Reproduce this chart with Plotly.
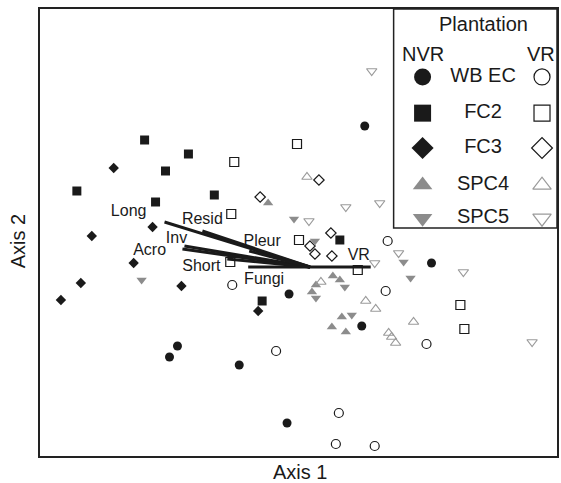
import plotly.graph_objects as go

# ---- ordination scores (Axis 1, Axis 2) ----
wbec_nvr_x = [0.55, 1.22, -0.21, 0.52, -1.33, -1.41, -0.71, -0.23]
wbec_nvr_y = [1.41, 0.04, -0.27, -0.59, -0.79, -0.90, -0.98, -1.56]
wbec_vr_x = [0.78, 0.76, 1.17, -0.34, -0.78, 0.29, 0.26, 0.65]
wbec_vr_y = [0.26, -0.24, -0.77, -0.84, -0.18, -1.46, -1.77, -1.79]

fc2_nvr_x = [-1.66, -1.22, -1.45, -2.34, -0.96, -1.55, 0.30, -0.48]
fc2_nvr_y = [1.27, 1.13, 0.96, 0.76, 0.72, 0.65, 0.27, -0.34]
fc2_vr_x = [-0.76, -0.79, -0.13, -0.80, -0.11, 0.48, 1.51, 1.55]
fc2_vr_y = [1.05, 0.53, 1.23, 0.05, 0.27, -0.03, -0.38, -0.62]

fc3_nvr_x = [-1.97, -1.58, -2.19, -1.77, -2.30, -1.29, -2.50, -0.52]
fc3_nvr_y = [0.99, 0.40, 0.31, 0.04, -0.16, -0.19, -0.33, -0.44]
fc3_vr_x = [-0.50, 0.09, 0.21, 0.00, 0.05, 0.22]
fc3_vr_y = [0.70, 0.87, 0.34, 0.21, 0.13, 0.11]

spc4_nvr_x = [-0.42, 0.23, 0.30, 0.06, 0.02, 0.32, 0.22, 0.36]
spc4_nvr_y = [0.64, -0.09, -0.13, -0.18, -0.25, -0.50, -0.60, -0.65]
spc4_vr_x = [-0.03, 0.11, 0.56, 0.66, 1.04, 0.79, 0.82, 0.86]
spc4_vr_y = [0.90, -0.15, -0.34, -0.42, -0.55, -0.66, -0.70, -0.76]

spc5_nvr_x = [-0.16, 0.05, 0.94, 1.01, -1.69, 0.35, 0.06, 0.42]
spc5_nvr_y = [0.48, 0.26, 0.05, -0.11, -0.13, -0.20, -0.31, -0.48]
spc5_vr_x = [0.62, 0.36, 0.70, -0.01, 0.65, 0.89, 1.54, 2.23]
spc5_vr_y = [1.96, 0.60, 0.64, 0.46, 0.04, 0.14, -0.05, -0.75]

# ---- environmental vectors ----
vec_names = ["Long", "Resid", "Inv", "Acro", "Short", "Pleur", "Fungi", "VR"]
vec_x = [-1.46, -1.08, -1.26, -1.28, -0.83, -0.61, -0.62, 0.61]
vec_y = [0.45, 0.36, 0.21, 0.18, 0.08, 0.16, 0.00, 0.00]
lab_x = [-1.82, -1.08, -1.34, -1.61, -1.09, -0.48, -0.46, 0.49]
lab_y = [0.55, 0.47, 0.28, 0.16, 0.00, 0.25, -0.13, 0.11]

groups = ["WB EC", "FC2", "FC3", "SPC4", "SPC5"]
symbols = ["circle", "square", "diamond", "triangle-up", "triangle-down"]

BLACK = "#1a1a1a"
GREY = "#8c8c8c"
OGREY = "#9a9a9a"
FONT = "Liberation Sans, Arial, sans-serif"

fig = go.Figure()

# vectors
vx, vy = [], []
for x, y in zip(vec_x, vec_y):
    vx += [0, x, None]
    vy += [0, y, None]
fig.add_trace(go.Scatter(x=vx, y=vy, mode="lines",
                         line=dict(color=BLACK, width=3), hoverinfo="skip"))
fig.add_trace(go.Scatter(x=lab_x, y=lab_y, mode="text", text=vec_names,
                         textfont=dict(family=FONT, size=16, color=BLACK),
                         hoverinfo="skip"))

data = [
    (wbec_nvr_x, wbec_nvr_y, wbec_vr_x, wbec_vr_y, "circle", 9, 9),
    (fc2_nvr_x, fc2_nvr_y, fc2_vr_x, fc2_vr_y, "square", 9, 9),
    (fc3_nvr_x, fc3_nvr_y, fc3_vr_x, fc3_vr_y, "diamond", 8, 8),
    (spc4_nvr_x, spc4_nvr_y, spc4_vr_x, spc4_vr_y, "triangle-up", 9, 9),
    (spc5_nvr_x, spc5_nvr_y, spc5_vr_x, spc5_vr_y, "triangle-down", 9, 9),
]
for i, (nx, ny, ox, oy, sym, s1, s2) in enumerate(data):
    fill = GREY if i >= 3 else BLACK
    ocol = OGREY if i >= 3 else BLACK
    fig.add_trace(go.Scatter(x=nx, y=ny, mode="markers",
                             marker=dict(symbol=sym, size=s1, color=fill,
                                         line=dict(width=0))))
    fig.add_trace(go.Scatter(x=ox, y=oy, mode="markers",
                             marker=dict(symbol=sym + "-open", size=s2, color=ocol,
                                         line=dict(width=1.2, color=ocol))))

# ---- custom legend (overlay axes in plot-area fractions) ----
leg_rows = [0.848, 0.767, 0.689, 0.606, 0.532]
for i, (g, sym) in enumerate(zip(groups, symbols)):
    fill = GREY if i >= 3 else BLACK
    ocol = OGREY if i >= 3 else BLACK
    fig.add_trace(go.Scatter(x=[0.740], y=[leg_rows[i]], xaxis="x2", yaxis="y2",
                             mode="markers", cliponaxis=False,
                             marker=dict(symbol=sym, size=17, color=fill, line=dict(width=0))))
    fig.add_trace(go.Scatter(x=[0.971], y=[leg_rows[i]], xaxis="x2", yaxis="y2",
                             mode="markers", cliponaxis=False,
                             marker=dict(symbol=sym + "-open", size=16, color=ocol,
                                         line=dict(width=1.2, color=ocol))))
    fig.add_trace(go.Scatter(x=[0.857], y=[leg_rows[i]], xaxis="x2", yaxis="y2",
                             mode="text", text=[g], cliponaxis=False,
                             textfont=dict(family=FONT, size=20, color=BLACK)))

annos = [
    dict(x=0.857, y=0.966, text="Plantation", size=20),
    dict(x=0.740, y=0.899, text="NVR", size=20),
    dict(x=0.969, y=0.899, text="VR", size=20),
]
annotations = [dict(xref="paper", yref="paper", x=a["x"], y=a["y"], text=a["text"],
                    showarrow=False, xanchor="center", yanchor="middle",
                    font=dict(family=FONT, size=a["size"], color=BLACK)) for a in annos]
annotations.append(dict(xref="paper", yref="paper", x=0.503, y=-0.036, text="Axis 1",
                        showarrow=False, xanchor="center", yanchor="middle",
                        font=dict(family=FONT, size=20, color=BLACK)))
annotations.append(dict(xref="paper", yref="paper", x=-0.042, y=0.481, text="Axis 2",
                        showarrow=False, xanchor="center", yanchor="middle", textangle=-90,
                        font=dict(family=FONT, size=20, color=BLACK)))

fig.update_layout(
    width=561, height=483,
    margin=dict(l=40, r=2, t=9, b=27),
    paper_bgcolor="white", plot_bgcolor="white",
    showlegend=False,
    hovermode=False,
    xaxis=dict(range=[-2.71, 2.48], showgrid=False, zeroline=False, showticklabels=False,
               ticks="", showline=True, mirror=True, linecolor="#222", linewidth=1.5),
    yaxis=dict(range=[-1.89, 2.58], showgrid=False, zeroline=False, showticklabels=False,
               ticks="", showline=True, mirror=True, linecolor="#222", linewidth=1.5),
    xaxis2=dict(range=[0, 1], overlaying="x", anchor="y2", visible=False),
    yaxis2=dict(range=[0, 1], overlaying="y", anchor="x2", visible=False),
    annotations=annotations,
    shapes=[dict(type="rect", xref="paper", yref="paper", x0=0.684, x1=1.0, y0=0.510, y1=1.0,
                 line=dict(color="#222", width=1.5), fillcolor="rgba(0,0,0,0)")],
)

fig.write_html(
    "out.html",
    config={"displayModeBar": False},
    post_script="document.body.style.margin='0';document.body.style.overflow='hidden';",
)
